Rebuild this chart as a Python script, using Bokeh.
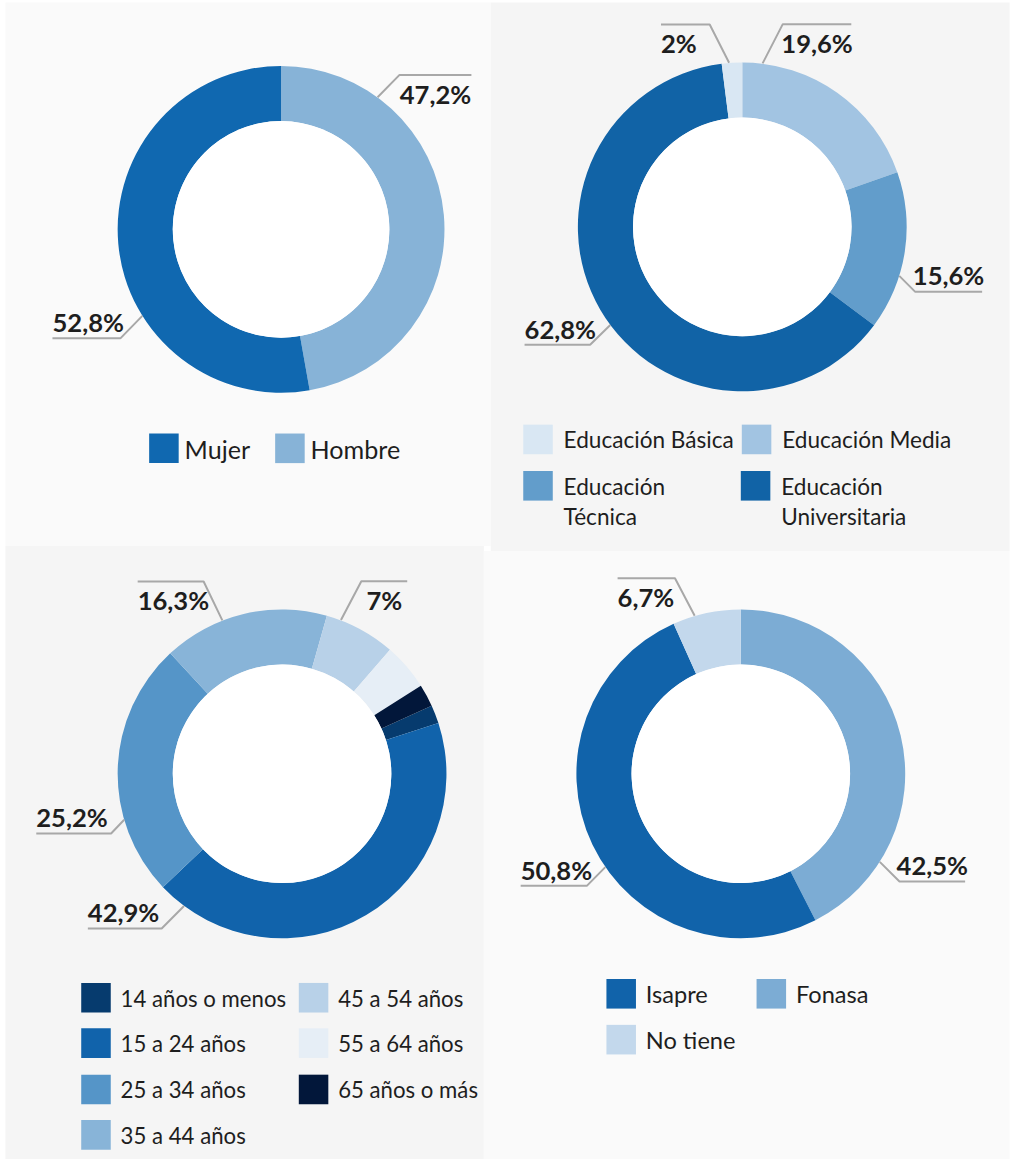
import numpy as np
from bokeh.plotting import figure
from bokeh.models import Range1d
from bokeh.embed import file_html
from bokeh.resources import INLINE
from bokeh.core.properties import value

# ---------------- data ----------------
sexo_cats = ["Mujer", "Hombre"]
sexo_vals = [52.8, 47.2]
sexo_labels = ["52,8%", "47,2%"]

edu_cats = ["Educación Básica", "Educación Media", "Educación\nTécnica", "Educación\nUniversitaria"]
edu_vals = [2.0, 19.6, 15.6, 62.8]
edu_labels = ["2%", "19,6%", "15,6%", "62,8%"]

edad_cats = ["14 años o menos", "15 a 24 años", "25 a 34 años", "35 a 44 años",
             "45 a 54 años", "55 a 64 años", "65 años o más"]
edad_vals = [1.8, 42.9, 25.2, 16.3, 7.0, 4.6, 2.2]
edad_labels = [None, "42,9%", "25,2%", "16,3%", "7%", None, None]

salud_cats = ["Isapre", "Fonasa", "No tiene"]
salud_vals = [50.8, 42.5, 6.7]
salud_labels = ["50,8%", "42,5%", "6,7%"]

# ---------------- styles ----------------
sexo_colors = ["#1068b0", "#87b3d7"]
edu_colors = ["#d9e7f3", "#a2c4e2", "#629dcb", "#1163a6"]
edad_colors = ["#063b6e", "#1163ab", "#5595c8", "#88b4d8", "#b8d1e8", "#e6eef6", "#02173a"]
salud_colors = ["#1163aa", "#7cacd4", "#c3d8ec"]

FONT = "Lato"
TXT = "#1e1e1e"
LEADER = "#a8a8a8"
SC = 1013 / 1029.0      # page scale
TDY = 10.0              # text baseline correction (reference px)


def fs(px):
    return "%.1fpx" % (px * SC)


W, H = 1013, 1159
p = figure(width=W, height=H, x_range=Range1d(0, 1029), y_range=Range1d(0, 1175),
           output_backend="svg", toolbar_location=None, min_border=0)
p.axis.visible = False
p.grid.visible = False
p.outline_line_color = None
p.background_fill_color = "white"
p.border_fill_color = "white"


def Y(ry):
    return 1175 - ry


# panels (left, right, top, bottom, color)
panels = [(5, 498, 2, 553, "#fafafa"), (498, 1025, 2, 558, "#f5f5f5"),
          (5, 491, 553, 1175, "#f5f5f5"), (491, 1025, 558, 1175, "#fafafa")]
p.quad(left=[a[0] for a in panels], right=[a[1] for a in panels],
       top=[Y(a[2]) for a in panels], bottom=[Y(a[3]) for a in panels],
       fill_color=[a[4] for a in panels], line_color=None)


def donut(cx, cy, r_out, r_in, vals, colors, order, start_deg):
    tot = sum(vals)
    a = start_deg
    sa, ea, cs = [], [], []
    for i in order:
        span = vals[i] / tot * 360.0
        sa.append(np.radians(90 - a))
        ea.append(np.radians(90 - (a + span)))
        cs.append(colors[i])
        a += span
    n = len(order)
    p.annular_wedge(x=[cx] * n, y=[Y(cy)] * n, inner_radius=r_in, outer_radius=r_out,
                    start_angle=sa, end_angle=ea, direction="clock",
                    fill_color=cs, line_color=None)
    p.circle(x=[cx], y=[Y(cy)], radius=r_in, fill_color="white", line_color=None)


def labels(cx, cy, r, labs, layout):
    lx, ly, tx, ty, tt, ta = [], [], [], [], [], []
    for lab, lay in zip(labs, layout):
        if lab is None or lay is None:
            continue
        ang, dx, dy, hl = lay
        sx = cx + r * np.sin(np.radians(ang))
        sy = cy - r * np.cos(np.radians(ang))
        ex, ey = sx + dx, sy + dy
        hx = ex + (hl if dx > 0 else -hl)
        lx.append([sx, ex, hx])
        ly.append([Y(sy), Y(ey), Y(ey)])
        base = ey + 29 if dy < 0 else ey - 6.5
        if dx > 0:
            tx.append((ex + hx) / 2)
            ta.append("center")
        else:
            tx.append(hx)
            ta.append("left")
        ty.append(Y(base - TDY))
        tt.append(lab)
    p.multi_line(xs=lx, ys=ly, line_color=LEADER, line_width=2)
    p.text(x=tx, y=ty, text=tt, text_align=ta, text_baseline="alphabetic",
           text_font=value(FONT), text_font_style="bold", text_font_size=fs(26),
           text_color=TXT)


def legend(cats, colors, pos, size, fpx, gap=40, lh=31):
    qx, qy, qc = [], [], []
    tx, ty, tt = [], [], []
    for c, col, (x0, y0) in zip(cats, colors, pos):
        qx.append(x0)
        qy.append(y0)
        qc.append(col)
        for k, line in enumerate(c.split("\n")):
            tx.append(x0 + gap)
            ty.append(Y(y0 + 25.5 + k * lh - TDY))
            tt.append(line)
    p.quad(left=qx, right=[v + size for v in qx], top=[Y(v) for v in qy],
           bottom=[Y(v + size) for v in qy], fill_color=qc, line_color=None)
    p.text(x=tx, y=ty, text=tt, text_align="left", text_baseline="alphabetic",
           text_font=value(FONT), text_font_size=fs(fpx), text_color=TXT)


# ---- chart 1: sexo ----
donut(285, 232, 166, 110, sexo_vals, sexo_colors, [1, 0], 0)
labels(285, 232, 166, sexo_labels, [(238.1, -22.3, 22.8, 69), (36.2, 22.3, -22.6, 73)])
legend(sexo_cats, sexo_colors, [(151, 439), (279, 439)], 30, 25.5, gap=36)

# ---- chart 2: educación ----
donut(753.5, 229.5, 167, 111, edu_vals, edu_colors, [1, 2, 3, 0], 0)
labels(753.5, 229.5, 167, edu_labels,
       [(355.4, -19.7, -38.7, 49.5), (7.1, 20.5, -39.8, 69.6),
        (107.3, 16, 16, 68.2), (233.4, -20.5, 20, 66.6)])
legend(edu_cats, edu_colors, [(531, 430), (753, 430), (531, 477), (752, 477)], 30, 23, gap=41)

# ---- chart 3: edad ----
donut(286, 784, 167, 111, edad_vals, edad_colors, list(range(7)), 65.5)
labels(286, 784, 167, edad_labels,
       [None, (216.6, -22.7, 22.7, 75), (253.8, -13.3, 13.9, 76),
        (338.7, -19, -39.4, 67), (21, 20.7, -39.4, 46.6), None, None])
legend(edad_cats, edad_colors,
       [(82, 996), (82, 1042), (82, 1089), (82, 1135), (303, 996), (303, 1042), (303, 1089)],
       30, 22.6, gap=40)

# ---- chart 4: salud ----
donut(752, 784, 167, 111, salud_vals, salud_colors, [1, 0, 2], 0)
labels(752, 784, 167, salud_labels,
       [(235.5, -18.8, 19, 67.2), (122.3, 20, 20, 66.7), (343.7, -20, -38, 58.3)])
legend(salud_cats, salud_colors, [(615.5, 992), (768, 992), (615.5, 1038.5)], 30, 24, gap=40)

open("out.html", "w").write(file_html(p, INLINE))
